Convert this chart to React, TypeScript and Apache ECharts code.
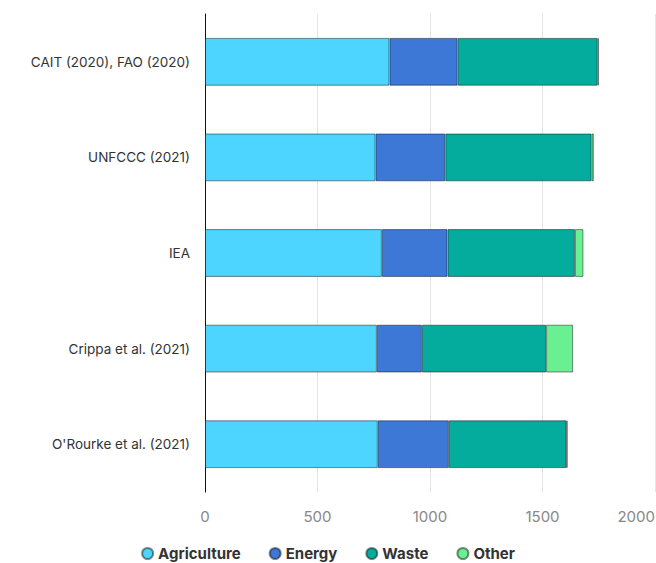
import React, { useEffect, useRef } from "react";
import * as echarts from "echarts";

const categories = [
  "CAIT (2020), FAO (2020)",
  "UNFCCC (2021)",
  "IEA",
  "Crippa et al. (2021)",
  "O'Rourke et al. (2021)",
];
const agriculture = [820, 758, 786, 764, 768];
const energy = [303, 310, 292, 200, 316];
const waste = [622, 650, 566, 552, 523];
const other = [5, 10, 38, 120, 4];
const xTicks = [0, 500, 1000, 1500, 2000];

const seriesNames = ["Agriculture", "Energy", "Waste", "Other"];
const seriesData = [agriculture, energy, waste, other];
const colors = ["#4DD4FF", "#3D78D6", "#04AC9E", "#6AF093"];

export default function App() {
  const ref = useRef<HTMLDivElement>(null);
  useEffect(() => {
    if (!ref.current) return;
    const chart = echarts.init(ref.current, null, { renderer: "svg" });
    chart.setOption({
      animation: false,
      textStyle: { fontFamily: "Inter, sans-serif" },
      grid: {
        left: 205,
        right: 1,
        top: 14,
        bottom: 71,
        containLabel: false,
        outerBoundsMode: "none",
      },
      legend: {
        top: 546,
        left: "center",
        icon: "circle",
        itemWidth: 11,
        itemHeight: 11,
        itemGap: 28,
        padding: 0,
        data: seriesNames,
        textStyle: { fontWeight: "bold", fontSize: 15, color: "#333" },
      },
      xAxis: {
        type: "value",
        min: xTicks[0],
        max: xTicks[xTicks.length - 1],
        interval: 500,
        axisLine: { show: false },
        axisTick: { show: false },
        axisLabel: {
          color: "#888",
          fontSize: 15,
          margin: 17,
          alignMaxLabel: "right",
          formatter: (v: number) => String(v),
        },
        splitLine: { lineStyle: { color: "#e4e4e4", width: 1 } },
      },
      yAxis: {
        type: "category",
        data: categories,
        inverse: true,
        axisLine: { show: true, lineStyle: { color: "#111", width: 1 } },
        axisTick: { show: false },
        axisLabel: { color: "#333", fontSize: 13.5, margin: 15 },
      },
      series: seriesNames.map((name, i) => ({
        name,
        type: "bar",
        stack: "total",
        barWidth: "50%",
        data: seriesData[i],
        itemStyle: {
          color: colors[i],
          borderColor: "rgba(0,0,0,0.45)",
          borderWidth: 1,
        },
      })),
    });
    return () => chart.dispose();
  }, []);
  return (
    <div
      ref={ref}
      style={{ position: "absolute", left: 0, top: 0, width: 656, height: 563 }}
    />
  );
}
